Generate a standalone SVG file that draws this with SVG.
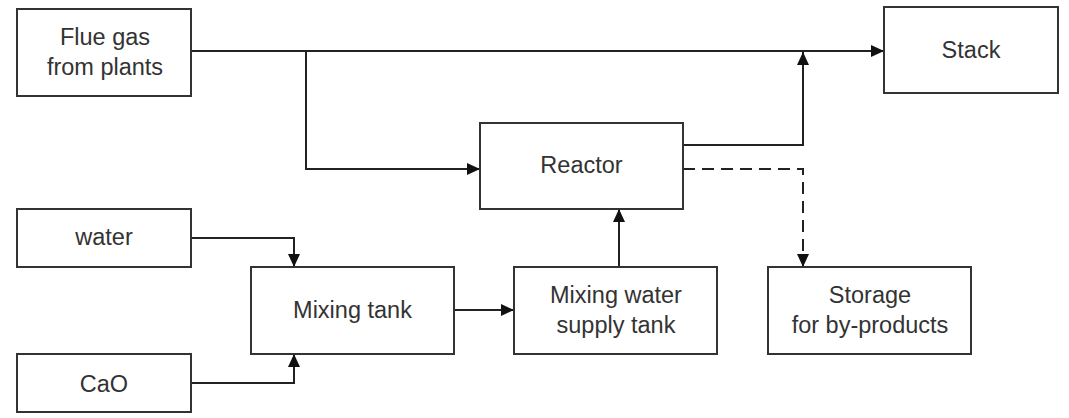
<svg xmlns="http://www.w3.org/2000/svg" width="1069" height="418" viewBox="0 0 1069 418">
<style>
.box{fill:#fff;stroke:#333;stroke-width:2}
.lbl{font-family:"Liberation Sans",Arial,sans-serif;font-size:23.5px;fill:#333;text-anchor:middle}
.ln{fill:none;stroke:#222;stroke-width:2}
.dash{stroke-dasharray:12 7}
</style>
<defs>
<marker id="arr" markerUnits="userSpaceOnUse" markerWidth="13" markerHeight="12" refX="13" refY="6" orient="auto">
<path d="M0,0 L13,6 L0,12 z" fill="#111"/>
</marker>
</defs>
<rect width="1069" height="418" fill="#fff"/>
<g id="connectors">
<path class="ln" d="M191,51 H884" marker-end="url(#arr)"/>
<path class="ln" d="M306,51 V169 H480" marker-end="url(#arr)"/>
<path class="ln" d="M683,145 H803 V52" marker-end="url(#arr)"/>
<path class="ln dash" d="M683,169 H803 V267" marker-end="url(#arr)"/>
<path class="ln" d="M619,267 V209" marker-end="url(#arr)"/>
<path class="ln" d="M191,238 H294 V267" marker-end="url(#arr)"/>
<path class="ln" d="M191,383 H294 V354" marker-end="url(#arr)"/>
<path class="ln" d="M454,310 H514" marker-end="url(#arr)"/>
</g>
<g id="flue-gas">
<rect class="box" x="17" y="9" width="174" height="87"/>
<text class="lbl" x="105" y="45">Flue gas</text>
<text class="lbl" x="105" y="75">from plants</text>
</g>
<g id="stack">
<rect class="box" x="884" y="7" width="174" height="86"/>
<text class="lbl" x="971" y="58">Stack</text>
</g>
<g id="reactor">
<rect class="box" x="480" y="123" width="203" height="86"/>
<text class="lbl" x="581.5" y="173">Reactor</text>
</g>
<g id="water">
<rect class="box" x="17" y="209" width="174" height="58"/>
<text class="lbl" x="104" y="245">water</text>
</g>
<g id="mixing-tank">
<rect class="box" x="251" y="267" width="203" height="87"/>
<text class="lbl" x="352.5" y="318">Mixing tank</text>
</g>
<g id="cao">
<rect class="box" x="17" y="354" width="174" height="58"/>
<text class="lbl" x="104" y="392">CaO</text>
</g>
<g id="supply-tank">
<rect class="box" x="514" y="267" width="203" height="87"/>
<text class="lbl" x="616" y="303">Mixing water</text>
<text class="lbl" x="616" y="333">supply tank</text>
</g>
<g id="storage">
<rect class="box" x="768" y="267" width="203" height="87"/>
<text class="lbl" x="870" y="303">Storage</text>
<text class="lbl" x="870" y="333">for by-products</text>
</g>
</svg>
